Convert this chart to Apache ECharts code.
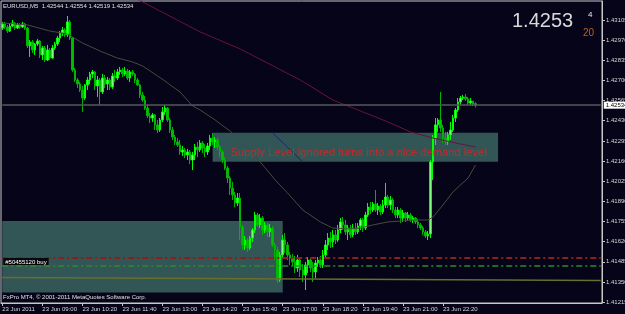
<!DOCTYPE html>
<html><head><meta charset="utf-8">
<script src="https://cdn.jsdelivr.net/npm/echarts@6/dist/echarts.min.js"></script>
<style>html,body{margin:0;padding:0;background:#050418;}#c{width:625px;height:314px;}</style>
</head><body><div id="c"></div>
<script>
// ---------- DATA ----------
const symbolName = 'EURUSD,M5';
const copyright = 'FxPro MT4, \u00a9 2001-2011 MetaQuotes Software Corp.';
const annotation = 'Supply Level ignored turns into a nice demand level';
const orderLabel = '#50455120 buy';
const timerText = '20';

// M5 bars from 23 Jun 07:40 (chart shifted: empty slots on the right)
const categories = [];
for (let i = 0; i < 240; i++) {
  const m = 7 * 60 + 40 + 5 * i;
  categories.push('23 Jun ' + String(Math.floor(m / 60) % 24).padStart(2, '0') + ':' + String(m % 60).padStart(2, '0'));
}
const tickLabels = ['23 Jun 2011','23 Jun 09:00','23 Jun 10:20','23 Jun 11:40','23 Jun 13:00','23 Jun 14:20',
  '23 Jun 15:40','23 Jun 17:00','23 Jun 18:20','23 Jun 19:40','23 Jun 21:00','23 Jun 22:20'];
const tickStep = 16;
const priceTicks = [1.41215,1.41350,1.41485,1.41620,1.41755,1.41890,1.42025,1.42160,1.42295,1.42430,1.42565,1.42700,1.42835,1.42970,1.43105];

const opens = [1.43051,1.43078,1.43058,1.43031,1.43065,1.43085,1.43051,1.43072,1.43058,1.43078,
1.43051,1.42931,1.42958,1.42904,1.42944,1.42964,1.42871,1.42917,1.42837,1.42904,
1.42850,1.42917,1.42944,1.42984,1.43018,1.43038,1.43005,1.43092,1.42984,1.42770,
1.42703,1.42676,1.42636,1.42582,1.42670,1.42703,1.42743,1.42757,1.42663,1.42703,
1.42623,1.42716,1.42676,1.42703,1.42656,1.42730,1.42716,1.42757,1.42770,1.42743,
1.42763,1.42716,1.42757,1.42743,1.42703,1.42670,1.42603,1.42569,1.42515,1.42462,
1.42448,1.42469,1.42402,1.42368,1.42435,1.42489,1.42515,1.42435,1.42368,1.42321,
1.42288,1.42268,1.42221,1.42234,1.42201,1.42221,1.42167,1.42201,1.42254,1.42234,
1.42281,1.42247,1.42221,1.42261,1.42314,1.42288,1.42301,1.42254,1.42221,1.42167,
1.42113,1.42046,1.41979,1.41933,1.41879,1.41912,1.41718,1.41598,1.41631,1.41577,
1.41644,1.41698,1.41799,1.41732,1.41778,1.41698,1.41732,1.41685,1.41711,1.41598,
1.41564,1.41363,1.41531,1.41631,1.41598,1.41531,1.41510,1.41484,1.41443,1.41497,
1.41430,1.41397,1.41464,1.41497,1.41443,1.41417,1.41477,1.41497,1.41464,1.41531,
1.41598,1.41644,1.41618,1.41665,1.41631,1.41698,1.41752,1.41732,1.41685,1.41711,
1.41665,1.41711,1.41685,1.41725,1.41765,1.41711,1.41799,1.41852,1.41832,1.41872,
1.41832,1.41859,1.41819,1.41866,1.41919,1.41866,1.41899,1.41832,1.41799,1.41832,
1.41778,1.41812,1.41778,1.41799,1.41765,1.41778,1.41752,1.41732,1.41711,1.41685,
1.41658,1.41671,1.42154,1.42314,1.42402,1.42435,1.42381,1.42314,1.42288,1.42335,
1.42368,1.42448,1.42502,1.42556,1.42582,1.42589,1.42576,1.42549,1.42562,1.42544];

const closes = [1.43078,1.43058,1.43031,1.43065,1.43085,1.43051,1.43072,1.43058,1.43078,1.43051,
1.42931,1.42958,1.42904,1.42944,1.42964,1.42871,1.42917,1.42837,1.42904,1.42850,
1.42917,1.42944,1.42984,1.43018,1.43038,1.43005,1.43092,1.42984,1.42770,1.42703,
1.42676,1.42636,1.42582,1.42670,1.42703,1.42743,1.42757,1.42663,1.42703,1.42623,
1.42716,1.42676,1.42703,1.42656,1.42730,1.42716,1.42757,1.42770,1.42743,1.42763,
1.42716,1.42757,1.42743,1.42703,1.42670,1.42603,1.42569,1.42515,1.42462,1.42448,
1.42469,1.42402,1.42368,1.42435,1.42489,1.42515,1.42435,1.42368,1.42321,1.42288,
1.42268,1.42221,1.42234,1.42201,1.42221,1.42167,1.42201,1.42254,1.42234,1.42281,
1.42247,1.42221,1.42261,1.42314,1.42288,1.42301,1.42254,1.42221,1.42167,1.42113,
1.42046,1.41979,1.41933,1.41879,1.41912,1.41718,1.41598,1.41631,1.41577,1.41644,
1.41698,1.41799,1.41732,1.41778,1.41698,1.41732,1.41685,1.41711,1.41598,1.41564,
1.41363,1.41531,1.41631,1.41598,1.41531,1.41510,1.41484,1.41443,1.41497,1.41430,
1.41397,1.41464,1.41497,1.41443,1.41417,1.41477,1.41497,1.41464,1.41531,1.41598,
1.41644,1.41618,1.41665,1.41631,1.41698,1.41752,1.41732,1.41685,1.41711,1.41665,
1.41711,1.41685,1.41725,1.41765,1.41711,1.41799,1.41852,1.41832,1.41872,1.41832,
1.41859,1.41819,1.41866,1.41919,1.41866,1.41899,1.41832,1.41799,1.41832,1.41778,
1.41812,1.41778,1.41799,1.41765,1.41778,1.41752,1.41732,1.41711,1.41685,1.41658,
1.41671,1.42154,1.42314,1.42402,1.42435,1.42381,1.42314,1.42288,1.42335,1.42368,
1.42448,1.42502,1.42556,1.42582,1.42589,1.42576,1.42549,1.42562,1.42542,1.42534];

const lows = [1.43038,1.43045,1.43018,1.43025,1.43058,1.43038,1.43045,1.43045,1.43051,1.43038,
1.42917,1.42857,1.42884,1.42871,1.42931,1.42850,1.42837,1.42824,1.42830,1.42837,
1.42844,1.42904,1.42931,1.42958,1.42998,1.42991,1.42991,1.42971,1.42757,1.42690,
1.42649,1.42623,1.42489,1.42569,1.42636,1.42676,1.42716,1.42636,1.42589,1.42536,
1.42609,1.42649,1.42636,1.42636,1.42643,1.42690,1.42703,1.42737,1.42723,1.42730,
1.42703,1.42690,1.42730,1.42683,1.42663,1.42582,1.42556,1.42502,1.42448,1.42415,
1.42422,1.42368,1.42348,1.42355,1.42422,1.42469,1.42422,1.42348,1.42301,1.42268,
1.42254,1.42201,1.42194,1.42180,1.42167,1.42140,1.42100,1.42167,1.42187,1.42221,
1.42214,1.42187,1.42201,1.42234,1.42268,1.42247,1.42234,1.42187,1.42147,1.42100,
1.42013,1.41933,1.41899,1.41852,1.41859,1.41631,1.41564,1.41564,1.41551,1.41564,
1.41618,1.41678,1.41718,1.41711,1.41665,1.41678,1.41651,1.41651,1.41584,1.41497,
1.41343,1.41350,1.41510,1.41544,1.41497,1.41464,1.41457,1.41410,1.41417,1.41383,
1.41350,1.41296,1.41410,1.41417,1.41350,1.41376,1.41450,1.41443,1.41443,1.41510,
1.41564,1.41577,1.41584,1.41604,1.41618,1.41678,1.41698,1.41665,1.41631,1.41644,
1.41651,1.41665,1.41671,1.41698,1.41685,1.41698,1.41785,1.41805,1.41819,1.41819,
1.41799,1.41799,1.41805,1.41845,1.41845,1.41832,1.41812,1.41778,1.41778,1.41745,
1.41752,1.41752,1.41765,1.41752,1.41745,1.41738,1.41711,1.41698,1.41665,1.41644,
1.41631,1.41644,1.42033,1.42268,1.42355,1.42355,1.42281,1.42268,1.42268,1.42301,
1.42355,1.42422,1.42489,1.42536,1.42569,1.42562,1.42536,1.42536,1.42529,1.42519];

const highs = [1.43092,1.43092,1.43072,1.43078,1.43105,1.43092,1.43085,1.43085,1.43092,1.43085,
1.43058,1.42971,1.42971,1.42951,1.42978,1.42971,1.42931,1.42931,1.42938,1.42917,
1.42938,1.42958,1.42998,1.43031,1.43058,1.43051,1.43132,1.43105,1.42991,1.42783,
1.42716,1.42690,1.42663,1.42676,1.42723,1.42757,1.42770,1.42763,1.42730,1.42716,
1.42743,1.42737,1.42723,1.42716,1.42750,1.42770,1.42777,1.42790,1.42783,1.42790,
1.42777,1.42770,1.42770,1.42750,1.42716,1.42676,1.42623,1.42596,1.42536,1.42482,
1.42482,1.42475,1.42435,1.42448,1.42522,1.42536,1.42522,1.42448,1.42388,1.42335,
1.42314,1.42301,1.42261,1.42247,1.42241,1.42234,1.42221,1.42274,1.42288,1.42301,
1.42294,1.42274,1.42281,1.42335,1.42348,1.42321,1.42314,1.42268,1.42234,1.42187,
1.42127,1.42060,1.42020,1.41953,1.41946,1.41946,1.41732,1.41658,1.41644,1.41658,
1.41711,1.41819,1.41812,1.41805,1.41792,1.41752,1.41745,1.41738,1.41725,1.41611,
1.41584,1.41551,1.41665,1.41678,1.41618,1.41551,1.41537,1.41524,1.41531,1.41510,
1.41470,1.41484,1.41517,1.41510,1.41484,1.41497,1.41517,1.41524,1.41564,1.41631,
1.41678,1.41685,1.41698,1.41698,1.41732,1.41778,1.41785,1.41765,1.41732,1.41732,
1.41738,1.41745,1.41745,1.41778,1.41778,1.41819,1.41879,1.41886,1.41886,1.41966,
1.41879,1.41872,1.41899,1.42013,1.41933,1.41926,1.41912,1.41852,1.41852,1.41845,
1.41832,1.41819,1.41819,1.41812,1.41792,1.41785,1.41772,1.41745,1.41725,1.41698,
1.41691,1.42167,1.42335,1.42448,1.42448,1.42623,1.42402,1.42355,1.42355,1.42422,
1.42469,1.42515,1.42582,1.42596,1.42603,1.42609,1.42589,1.42582,1.42562,1.42554];

// moving averages, read as [bar index, price]
const maFast = [[0,1.43085],[10,1.43072],[19,1.43031],[26,1.43011],[32,1.42951],[39,1.42897],[46,1.42850],
  [52,1.42824],[56,1.42797],[62,1.42730],[65,1.42696],[67,1.42670],[71,1.42623],[76,1.42529],[79,1.42502],
  [85,1.42435],[91,1.42361],[97,1.42261],[103,1.42154],[109,1.42033],[115,1.41926],[120,1.41832],[127,1.41752],
  [132,1.41711],[138,1.41705],[143,1.41711],[148,1.41732],[154,1.41752],[159,1.41758],[164,1.41765],
  [170,1.41765],[172,1.41785],[175,1.41845],[180,1.41953],[186,1.42046],[189,1.42134]];
const maSlow = [[50,1.43279],[56,1.43226],[79,1.43025],[95,1.42911],[119,1.42703],[132,1.42569],[138,1.42529],
  [154,1.42422],[163,1.42355],[172,1.42314],[183,1.42274],[189,1.42254]];

// drawn objects
const zoneSupply = {from: 84, to: 198, high: 1.42350, low: 1.42156};
const zoneLower = {from: 0, to: 112, high: 1.41758, low: 1.41279};
const annotationAt = [91, 1.42214];
const stopLevel = 1.41512;
const orderLevel = 1.41457;
const olivLine = [[0, 1.41380], [239, 1.41360]];
const blueLine = [[108, 1.42348], [120, 1.42154]];
const yMin = 1.41209, yMax = 1.43232;

// ---------- CHART ----------
const n = opens.length;
const candles = opens.map((o, i) => [o, closes[i], lows[i], highs[i]]);
const last = n - 1;
const bidStr = closes[last].toFixed(5);
const headerText = symbolName + '  ' + [opens[last], highs[last], lows[last], closes[last]].map(v => v.toFixed(5)).join(' ');
const FF = 'Liberation Sans';
const showTick = (i) => i % tickStep === 0 && i / tickStep < tickLabels.length;
const lastCat = categories.length - 1;
const hLine = (level, style, label) => [
  {coord: [0, level], lineStyle: style, label: label || {show: false}},
  {coord: [lastCat, level]}
];

const chart = echarts.init(document.getElementById('c'), null, {renderer: 'canvas'});
chart.setOption({
  animation: false,
  backgroundColor: '#050418',
  textStyle: {fontFamily: FF},
  grid: {left: 1, right: 23, top: 1, bottom: 11, show: true, borderColor: '#c8c8c8', borderWidth: 1, outerBoundsMode: 'none', containLabel: false},
  xAxis: {
    type: 'category', data: categories, boundaryGap: true,
    axisLine: {show: true, lineStyle: {color: '#c8c8c8', width: 1}},
    axisTick: {show: true, alignWithLabel: true, interval: (i) => showTick(i), length: 3, lineStyle: {color: '#c8c8c8'}},
    axisLabel: {interval: (i) => showTick(i), formatter: (v, i) => tickLabels[i / tickStep], align: 'left',
      color: '#d8d8d8', fontSize: 6, margin: 3, fontFamily: FF},
    splitLine: {show: false}
  },
  yAxis: {
    type: 'value', position: 'right', min: yMin, max: yMax, scale: true,
    axisLine: {show: true, lineStyle: {color: '#c8c8c8', width: 1}},
    axisTick: {show: true, customValues: priceTicks, length: 3, lineStyle: {color: '#c8c8c8'}},
    axisLabel: {customValues: priceTicks, formatter: (v) => v.toFixed(5), color: '#d8d8d8', fontSize: 6, margin: 4, fontFamily: FF},
    splitLine: {show: false}
  },
  series: [
    {
      type: 'candlestick', data: candles, barWidth: 2, z: 3,
      itemStyle: {color: '#7dff7d', color0: '#00c000', borderColor: '#00ff00', borderColor0: '#00b400', borderWidth: 1},
      markArea: {
        silent: true,
        itemStyle: {color: '#325656', opacity: 1},
        data: [
          [{xAxis: zoneSupply.from, yAxis: zoneSupply.high}, {xAxis: zoneSupply.to, yAxis: zoneSupply.low}],
          [{xAxis: zoneLower.from, yAxis: zoneLower.high}, {xAxis: zoneLower.to, yAxis: zoneLower.low}]
        ]
      },
      markLine: {
        silent: true, symbol: ['none', 'none'],
        data: [
          hLine(closes[last], {color: '#55585c', type: 'solid', width: 1.5},
            {show: true, position: 'end', formatter: bidStr, backgroundColor: '#ffffff', color: '#000000',
              fontSize: 6, padding: [1, 2, 0, 2], distance: 3, fontFamily: FF}),
          hLine(stopLevel, {color: '#8e1e1e', type: [6, 3, 2, 3], width: 2}),
          hLine(orderLevel, {color: '#2c8a2c', type: [6, 3, 2, 3], width: 1.5},
            {show: true, position: 'insideStartTop', formatter: orderLabel, color: '#ffffff', backgroundColor: '#08080c',
              fontSize: 6, padding: [1, 2, 0, 2], distance: 1, fontFamily: FF}),
          [{coord: olivLine[0], lineStyle: {color: '#66702c', type: 'solid', width: 1.5}, label: {show: false}}, {coord: olivLine[1]}],
          [{coord: blueLine[0], lineStyle: {color: '#1c2766', type: 'solid', width: 1}, label: {show: false}}, {coord: blueLine[1]}]
        ]
      },
      markPoint: {
        silent: true,
        data: [{coord: annotationAt, symbol: 'circle', symbolSize: 1, itemStyle: {color: 'rgba(0,0,0,0)'},
          label: {show: true, position: 'right', distance: 0, formatter: annotation, color: '#c62a2a', fontSize: 11.2, fontFamily: FF}}]
      }
    },
    {type: 'line', data: maFast, showSymbol: false, symbol: 'none', z: 4, lineStyle: {color: '#4a4a3c', width: 1}, silent: true},
    {type: 'line', data: maSlow, showSymbol: false, symbol: 'none', z: 4, lineStyle: {color: '#6a1438', width: 1}, silent: true}
  ],
  graphic: [
    {type: 'text', left: 3, top: 3, silent: true, style: {text: headerText, fill: '#e0e0e0', fontSize: 6, fontFamily: FF}},
    {type: 'text', left: 3, top: 294, silent: true, style: {text: copyright, fill: '#e0e0e0', fontSize: 6, fontFamily: FF}},
    {type: 'text', left: 512, top: 11, silent: true, style: {text: bidStr.slice(0, 6), fill: '#d8d8d8', fontSize: 20, fontFamily: FF}},
    {type: 'text', left: 588, top: 11, silent: true, style: {text: bidStr.slice(6), fill: '#e8e8e8', fontSize: 8, fontFamily: FF}},
    {type: 'text', left: 583, top: 28, silent: true, style: {text: timerText, fill: '#c0601c', fontSize: 10, fontFamily: FF}}
  ]
});
</script>
</body></html>
